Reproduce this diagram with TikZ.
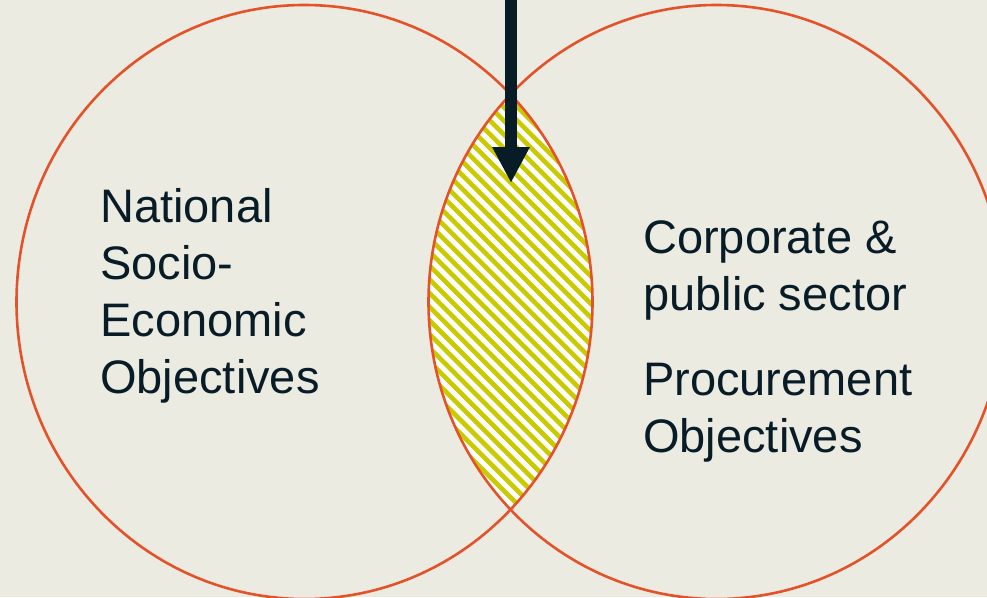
\documentclass[tikz,border=0pt]{standalone}
\usepackage{xcolor}
\usepackage{fontspec}
\setmainfont{Liberation Sans}
\usepackage{tikz}
\usetikzlibrary{arrows.meta, positioning}

\definecolor{paper}{RGB}{236,235,226}
\definecolor{ringred}{RGB}{228,82,42}
\definecolor{hatchyel}{RGB}{202,202,0}
\definecolor{inkblue}{RGB}{8,28,40}

\tikzset{
  ring/.style={draw=ringred, line width=2.6pt},
  objtext/.style={text=inkblue, align=left, inner sep=0pt, anchor=base west,
    font=\fontsize{47}{57}\selectfont},
  focus/.style={draw=inkblue, line width=12pt, -{Triangle[width=35pt,length=36pt]}}
}

\begin{document}
\begin{tikzpicture}[x=1pt, y=-1pt]
    % Page and background
    \useasboundingbox (0,0) rectangle (987,597);
    \fill[paper] (0,0) rectangle (987,597);

    % Centres of the two sets
    \coordinate (L0) at (304.5,302);
    \coordinate (R0) at (716.5,302);

    % Overlap: white with diagonal stripes
    \begin{scope}
      \clip (L0) ellipse [x radius=288pt, y radius=297pt];
      \clip (R0) ellipse [x radius=288pt, y radius=297pt];
      \fill[white] (400,60) rectangle (620,540);
      \foreach \k in {-520,-506.3,...,110} {
        \draw[hatchyel, line width=4.6pt] (400,400+\k) -- (620,620+\k);
      }
    \end{scope}

    % Set outlines
    \draw[ring] (L0) ellipse [x radius=288pt, y radius=297pt];
    \draw[ring] (R0) ellipse [x radius=288pt, y radius=297pt];

    % Arrow into the overlap
    \coordinate (top) at (511,-2);
    \coordinate (tip) at (511,183);
    \draw[focus] (top) -- (tip);

    % Labels (base = baseline of the last line)
    \node[objtext] (natl) at (100,393) {National\\Socio-\\Economic\\Objectives};
    \node[objtext] (corp) at (643,452) {Corporate \&\\public sector\\[28pt]Procurement\\Objectives};
\end{tikzpicture}
\end{document}
